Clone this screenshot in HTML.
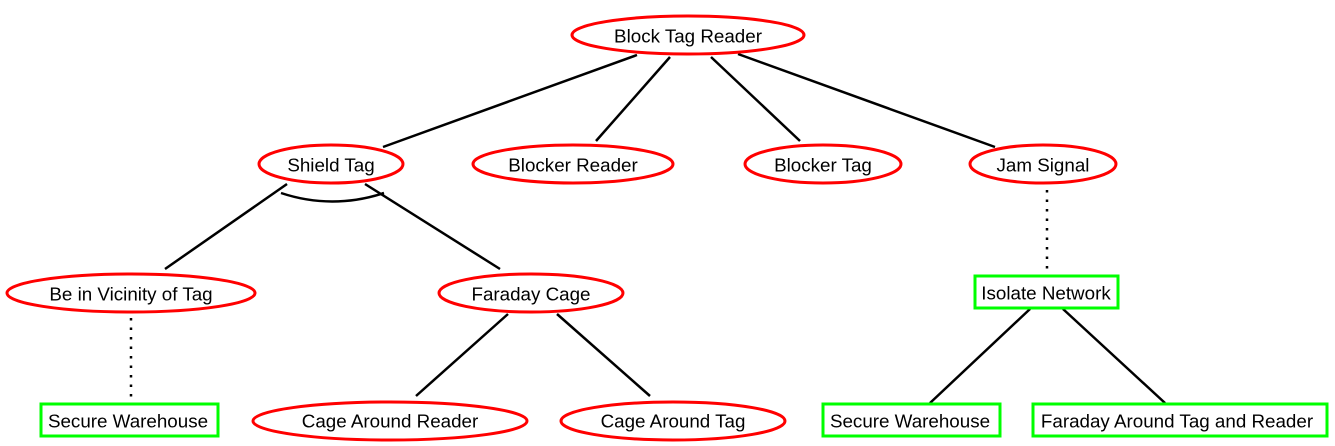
<!DOCTYPE html>
<html><head><meta charset="utf-8"><style>
html,body{margin:0;padding:0;background:#fff;}
svg{display:block;}
text{font-family:"Liberation Sans",Arial,sans-serif;font-size:18.8px;fill:#000;text-anchor:middle;dominant-baseline:central;}
</style></head><body>
<svg width="1335" height="446" viewBox="0 0 1335 446" xmlns="http://www.w3.org/2000/svg">
<g stroke="#000" stroke-width="2.5" fill="none">
<line x1="637" y1="55" x2="383" y2="147"/>
<line x1="670" y1="57" x2="596" y2="141"/>
<line x1="711" y1="57" x2="800" y2="141"/>
<line x1="738" y1="54" x2="995" y2="147"/>
<line x1="287" y1="184" x2="165" y2="269"/>
<line x1="365" y1="184" x2="500" y2="269"/>
<path d="M281 193 Q332 210 384 193"/>
<line x1="1047" y1="190" x2="1047" y2="272" stroke-dasharray="2.5,7"/>
<line x1="131" y1="318" x2="131" y2="400" stroke-dasharray="2.5,7"/>
<line x1="508" y1="314" x2="416" y2="396"/>
<line x1="557" y1="314" x2="650" y2="396"/>
<line x1="1030" y1="309" x2="930" y2="403"/>
<line x1="1063" y1="309" x2="1165" y2="403"/>
</g>
<g stroke="#f00" stroke-width="3" fill="#fff">
<ellipse cx="688" cy="35" rx="116" ry="19"/>
<ellipse cx="331" cy="164" rx="72" ry="19"/>
<ellipse cx="573" cy="164" rx="100" ry="19"/>
<ellipse cx="823" cy="164" rx="78" ry="19"/>
<ellipse cx="1043" cy="164" rx="73" ry="19"/>
<ellipse cx="131" cy="293" rx="124" ry="19"/>
<ellipse cx="531" cy="293" rx="92" ry="19"/>
<ellipse cx="390" cy="421" rx="137" ry="19"/>
<ellipse cx="673" cy="421" rx="112" ry="19"/>
</g>
<g stroke="#0f0" stroke-width="3" fill="#fff">
<rect x="975" y="276" width="143" height="32"/>
<rect x="41" y="404" width="177" height="32"/>
<rect x="823" y="404" width="177" height="32"/>
<rect x="1033" y="404" width="294" height="32"/>
</g>
<text x="688" y="36">Block Tag Reader</text>
<text x="331" y="165">Shield Tag</text>
<text x="573" y="165">Blocker Reader</text>
<text x="823" y="165">Blocker Tag</text>
<text x="1043" y="165">Jam Signal</text>
<text x="131" y="294">Be in Vicinity of Tag</text>
<text x="531" y="294">Faraday Cage</text>
<text x="1046" y="293">Isolate Network</text>
<text x="128" y="421">Secure Warehouse</text>
<text x="390" y="421">Cage Around Reader</text>
<text x="673" y="421">Cage Around Tag</text>
<text x="910" y="421">Secure Warehouse</text>
<text x="1177" y="421">Faraday Around Tag and Reader</text>
</svg>
</body></html>
